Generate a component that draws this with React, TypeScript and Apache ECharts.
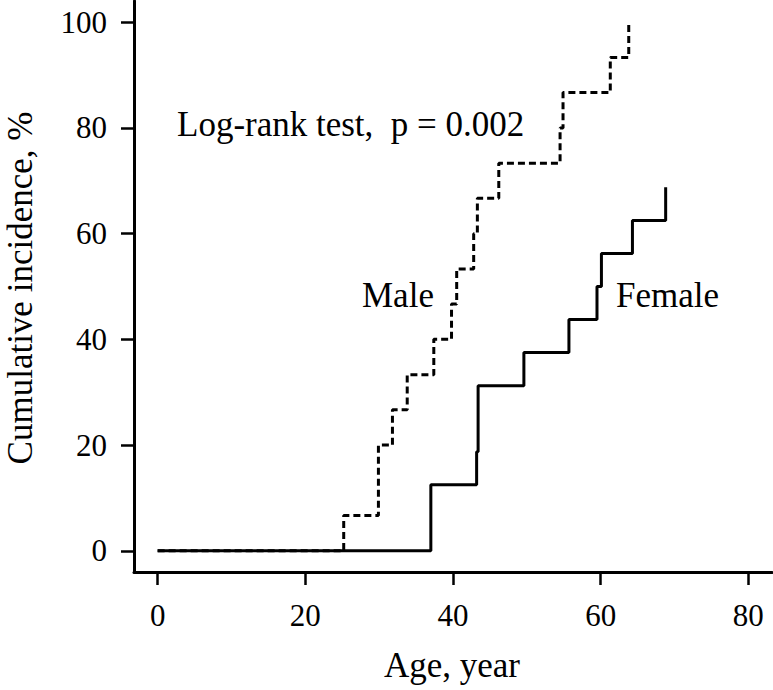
import React, { useEffect, useRef } from "react";
import * as echarts from "echarts";

const xTicks = [0, 20, 40, 60, 80];
const yTicks = [0, 20, 40, 60, 80, 100];

const maleTimes = [0, 25.2, 29.9, 31.8, 33.8, 37.4, 39.8, 40.5, 42.8, 43.3, 46.2, 54.5, 54.9, 61.3, 63.8];
const maleIncidence = [0, 6.67, 20, 26.67, 33.33, 40, 46.67, 53.33, 60, 66.67, 73.33, 80, 86.67, 93.33, 100];

const femaleTimes = [0, 37.0, 43.2, 43.4, 49.6, 55.7, 59.5, 60.1, 64.3, 68.8];
const femaleIncidence = [0, 12.5, 18.75, 31.25, 37.5, 43.75, 50, 56.25, 62.5, 68.75];

const FONT = "'Liberation Serif', 'Times New Roman', serif";

export default function App() {
  const ref = useRef<HTMLDivElement>(null);
  useEffect(() => {
    if (!ref.current) return;
    const chart = echarts.init(ref.current, undefined, { renderer: "svg" });
    const male = maleTimes.map((t, i) => [t, maleIncidence[i]]);
    const female = femaleTimes.map((t, i) => [t, femaleIncidence[i]]);
    chart.setOption({
      animation: false,
      backgroundColor: "#fff",
      grid: { left: 134, right: 1, top: 1, bottom: 118, containLabel: false },
      xAxis: {
        type: "value",
        min: -3.2,
        max: 83.2,
        splitLine: { show: false },
        axisLine: { show: true, onZero: false, lineStyle: { color: "#000", width: 3 } },
        axisTick: { show: true, customValues: xTicks, length: 13, lineStyle: { color: "#000", width: 2.5 } },
        axisLabel: {
          show: true,
          customValues: xTicks,
          margin: 28,
          fontSize: 31,
          fontFamily: FONT,
          color: "#000",
        },
      },
      yAxis: {
        type: "value",
        min: -4,
        max: 104,
        splitLine: { show: false },
        axisLine: { show: true, onZero: false, lineStyle: { color: "#000", width: 3 } },
        axisTick: { show: true, customValues: yTicks, length: 13, lineStyle: { color: "#000", width: 2.5 } },
        axisLabel: {
          show: true,
          customValues: yTicks,
          margin: 27,
          fontSize: 31,
          fontFamily: FONT,
          color: "#000",
        },
      },
      series: [
        {
          name: "Male",
          type: "line",
          step: "end",
          symbol: "none",
          data: male,
          lineStyle: { color: "#000", width: 3, type: [7, 4] },
          z: 2,
        },
        {
          name: "Female",
          type: "line",
          step: "end",
          symbol: "none",
          data: female,
          lineStyle: { color: "#000", width: 3, type: "solid" },
          z: 3,
        },
      ],
      graphic: [
        {
          type: "text",
          x: 177,
          y: 124,
          style: { text: "Log-rank test,  p = 0.002", fontSize: 35, fontFamily: FONT, fill: "#000", verticalAlign: "middle", align: "left" },
        },
        {
          type: "text",
          x: 362,
          y: 295,
          style: { text: "Male", fontSize: 35, fontFamily: FONT, fill: "#000", verticalAlign: "middle", align: "left" },
        },
        {
          type: "text",
          x: 616,
          y: 295,
          style: { text: "Female", fontSize: 35, fontFamily: FONT, fill: "#000", verticalAlign: "middle", align: "left" },
        },
        {
          type: "text",
          x: 452,
          y: 665,
          style: { text: "Age, year", fontSize: 35, fontFamily: FONT, fill: "#000", verticalAlign: "middle", align: "center" },
        },
        {
          type: "text",
          x: 20,
          y: 288,
          rotation: Math.PI / 2,
          style: { text: "Cumulative incidence, %", fontSize: 35, fontFamily: FONT, fill: "#000", verticalAlign: "middle", align: "center" },
        },
      ],
    });
    return () => chart.dispose();
  }, []);
  return <div ref={ref} style={{ position: "fixed", left: 0, top: 0, width: 773, height: 690 }} />;
}
